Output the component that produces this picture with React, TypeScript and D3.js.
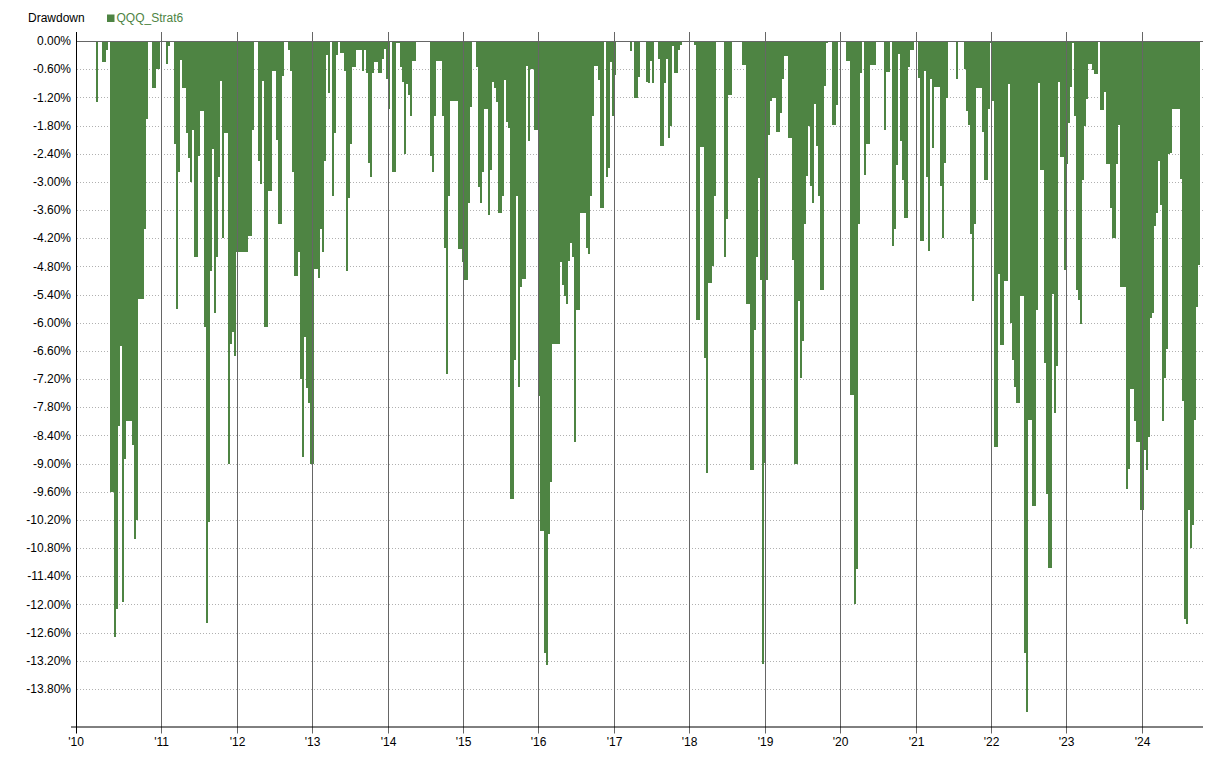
import * as d3 from "d3";
import * as React from "react";

const chartTitle = "Drawdown";
const seriesName = "QQQ_Strat6";

// drawdown in %, one reading about every 9.7 calendar days, starting mid-Nov 2009
const dd2010 = [
    0, 0, 0, 0, 0, 0, 0, 0, 0, 0,
    -1.3, 0, 0, -0.45, -0.45, -0.2, 0, -9.6, -9.6, -12.7,
    -12.1, -8.2, -6.5, -11.95, -8.9, -8.1, -8.1, -8.1, -8.6, -10.6,
    -10.2, -5.5, -5.5, -5.5, -4.0, -1.67, 0, 0, -1.0, -1.0,
    -0.6, -0.6, 0, 0, 0, -0.5, -0.1, 0, 0, -2.2,
    -5.7, -2.8, -0.4, -1.0, -1.0, -1.95, -2.5, -3.0, -1.9, -4.6,
    -4.6, -2.45, -1.5, -1.5, -6.1, -12.4, -10.25, -4.9, -2.3, -5.8,
    -4.6, -2.9, -0.85, -4.2, -1.95, -1.95, -9.0, -6.45, -6.2, -6.7,
];
const dd2012 = [
    -4.5, -4.5, -4.5, -4.5, -4.5, -4.5, -4.15, -4.15, -1.9, 0,
    0, -2.55, -3.05, -0.85, -6.1, -6.1, -3.2, -3.2, -0.64, -0.64,
    -2.1, -3.9, -3.9, -0.75, -0.03, -0.03, -0.2, -0.64, -2.8, -5.0,
    -5.0, -4.5, -7.2, -8.85, -6.3, -7.4, -7.7, -9.0, -9.0, -4.85,
    -4.85, -5.05, -4.0, -4.5, -2.55, -0.3, -1.1, 0, -3.3, -1.97,
    -0.3, 0, -0.26, -0.26, -0.64, -4.9, -3.35, -2.2, -0.56, -0.56,
    -0.19, -0.19, -0.19, -0.64, -0.19, -0.69, -2.6, -2.9, -0.69, -0.45,
    -0.45, -0.69, -0.69, -0.38, -0.17, -0.8, -1.45, 0, -2.8, -2.8,
];
const dd2014 = [
    -0.05, -0.05, -0.56, -0.87, -2.4, -0.92, -1.14, -1.6, -0.43, -0.43,
    0, 0, 0, 0, 0, 0, 0, -2.45, -2.8, -1.6,
    -0.43, -0.43, -0.43, -1.6, -4.4, -7.1, -3.3, -1.27, -1.27, -1.27,
    -1.27, -4.44, -4.44, -4.7, -5.1, -5.1, -3.45, -1.4, 0, 0,
    -0.56, -3.1, -3.45, -2.8, -1.45, -1.45, -3.7, -2.75, -0.87, -1.0,
    -1.3, -3.67, -3.67, -3.3, -0.83, -1.72, -1.86, -9.75, -9.75, -6.8,
    -3.3, -7.37, -5.24, -5.06, -5.06, -0.53, -2.14, -0.6, -0.6, -1.9,
    -1.9, -7.56, -10.44, -10.44, -13.03, -13.3, -10.5, -9.4, -6.46, -6.46,
];
const dd2016 = [
    -6.46, -6.46, -4.7, -5.2, -5.43, -5.6, -4.68, -4.3, -4.6, -8.55,
    -5.73, -5.73, -3.67, -3.67, -3.67, -4.4, -4.53, -3.3, -1.6, -0.53,
    -0.53, -0.83, -3.55, -3.55, 0, -2.9, -2.7, -0.45, -1.6, -0.73,
    0, 0, 0, 0, 0, 0, 0, -0.22, 0, -1.22,
    -1.22, -0.76, 0, 0, 0, -0.87, -0.9, -0.43, -0.9, 0,
    0, -0.38, -2.24, -2.24, -0.9, -0.38, -2.07, -1.8, -0.1, -0.68,
    -0.68, -0.2, -0.08, 0, -0.03, -0.03, -0.03, -0.03, -0.03, -0.08,
    -5.94, -5.94, -2.25, -2.25, -6.75, -9.2, -5.15, -5.15, -4.8, -3.3,
];
const dd2018 = [
    0, 0, 0, 0, -4.6, -3.8, -1.14, -1.14, 0, 0,
    0, 0, 0, -0.52, -0.52, -5.6, -5.6, -9.14, -9.14, -6.16,
    -4.6, -2.92, -5.08, -13.27, -8.98, -5.08, -2.0, -1.28, -1.22, -1.22,
    -1.93, -1.93, -1.53, -0.8, -0.33, -0.33, -2.07, -2.07, -4.66, -9.0,
    -9.0, -5.53, -7.17, -6.38, -3.9, -2.87, -1.8, -3.08, -3.46, -1.34,
    -2.24, -3.3, -5.3, -5.3, -0.95, -0.04, 0, 0, -1.78, -1.78,
    -1.36, 0, 0, 0, 0, -0.43, -0.43, -7.54, -7.54, -12.0,
    -11.25, -3.9, -0.69, 0, -2.85, -2.2, -2.2, -0.52, -0.52, -0.52,
];
const dd2021 = [
    0, 0, 0, 0, -1.89, -0.66, -0.66, 0, -4.37, -4.0,
    -2.64, -0.28, -2.14, -2.96, -3.78, -3.78, -0.56, -0.2, -0.2, 0,
    0, -0.78, -4.25, -4.25, -0.64, -2.9, -4.47, -0.8, -2.28, -0.97,
    -0.97, -0.97, -3.08, -4.2, -2.6, -1.22, 0, 0, 0, 0,
    -0.8, 0, 0, 0, -0.6, -1.5, -1.78, -4.1, -5.53, -3.9,
    -1.0, -1.0, -1.0, -1.93, -2.96, -2.96, -1.44, -0.05, -1.28, -8.65,
    -8.65, -4.96, -6.47, -6.47, -5.12, -5.12, -0.92, -6.0, -6.79, -7.37,
    -7.71, -7.71, -5.43, -5.43, -13.03, -14.3, -8.08, -8.08, -9.9, -9.9,
];
const dd2023 = [
    -5.73, -0.9, -2.75, -2.75, -6.85, -9.65, -11.22, -11.22, -5.39, -7.93,
    -6.93, -0.87, -2.47, -2.47, -4.88, -2.62, -1.75, -0.99, -0.05, -1.6,
    -5.3, -5.52, -6.02, -2.96, -1.81, -1.23, -0.49, -0.49, -0.61, -0.71,
    -0.71, 0, -1.48, -1.48, -1.08, -2.61, -2.61, -3.55, -4.19, -4.19,
    -2.61, -1.79, -5.24, -5.24, -5.24, -9.54, -9.11, -7.42, -7.42, -8.1,
    -8.55, -8.55, -9.99, -9.99, -8.71, -9.14, -8.43, -5.9, -5.8, -3.95,
    -3.66, -2.55, -3.5, -8.1, -7.18, -6.57, -2.4, -2.38, -1.44, -1.44,
    -1.44, -1.44, -2.94, -7.66, -12.3, -12.42, -9.99, -10.8, -10.3, -8.07,
    -5.66, -4.77,
];

const drawdown = [...dd2010, ...dd2012, ...dd2014, ...dd2016, ...dd2018, ...dd2021, ...dd2023];

const yearLabels = ["'10", "'11", "'12", "'13", "'14", "'15", "'16", "'17", "'18", "'19", "'20", "'21", "'22", "'23", "'24"];
const yearStarts = [2011, 2012, 2013, 2014, 2015, 2016, 2017, 2018, 2019, 2020, 2021, 2022, 2023, 2024];
const yTicks = d3.range(0, 24).map(k => -0.6 * k);

const startDate = new Date(2009, 10, 14);
const endDate = new Date(2024, 9, 24);
const stepMs = 9.686 * 24 * 3600 * 1000;

const WIDTH = 1226;
const HEIGHT = 758;
const margin = { top: 41, left: 76, right: 23, bottom: 31.5 };

const GREEN = "#4e8443";
const FONT = "'Liberation Sans', Arial, sans-serif";

export default function App() {
    const x = d3.scaleTime()
        .domain([startDate, endDate])
        .range([margin.left, WIDTH - margin.right]);
    const y = d3.scaleLinear()
        .domain([-14.6, 0])
        .range([HEIGHT - margin.bottom, margin.top]);

    const data = drawdown.map((v, i) => ({
        t0: new Date(startDate.getTime() + i * stepMs),
        t1: new Date(startDate.getTime() + (i + 1) * stepMs),
        v,
    }));

    const xTicks = [
        { pos: x(startDate), label: yearLabels[0] },
        ...yearStarts.map((yr, i) => ({ pos: Math.round(x(new Date(yr, 0, 1))) + 0.5, label: yearLabels[i + 1] })),
    ];
    const x0 = margin.left;
    const x1 = WIDTH - margin.right;
    const yBottom = HEIGHT - margin.bottom;
    const fmt = (d: number) => (Math.abs(d) < 1e-9 ? "0.00%" : d.toFixed(2) + "%");

    return (
        <svg width={WIDTH} height={HEIGHT} style={{ position: "absolute", left: 0, top: 0, background: "#fff" }}
            fontFamily={FONT} fontSize={12}>
            {/* legend */}
            <text x={28} y={22} fill="#000">{chartTitle}</text>
            <rect x={107} y={14.5} width={7.5} height={7.5} fill={GREEN} />
            <text x={116.5} y={22} fill={GREEN}>{seriesName}</text>

            {/* horizontal dotted grid */}
            <g>
                {yTicks.slice(1).map(t => (
                    <line key={t} x1={x0 + 1} x2={x1} y1={Math.round(y(t)) + 0.5} y2={Math.round(y(t)) + 0.5}
                        stroke="#b0b0b0" strokeDasharray="1,2" />
                ))}
            </g>

            {/* bars */}
            <g shapeRendering="crispEdges">
                {data.filter(d => d.v < 0).map((d, i) => (
                    <rect key={i} x={x(d.t0)} width={x(d.t1) - x(d.t0) + 0.3}
                        y={y(0)} height={y(d.v) - y(0)} fill={GREEN} />
                ))}
            </g>

            {/* year lines */}
            <g>
                {xTicks.slice(1).map(t => (
                    <line key={t.label} x1={t.pos} x2={t.pos} y1={32} y2={yBottom + 7} stroke="#666" />
                ))}
            </g>
            <line x1={x0} x2={x1} y1={Math.round(y(0)) + 0.5} y2={Math.round(y(0)) + 0.5} stroke="#666" />

            {/* axes */}
            <line x1={x0 + 0.5} x2={x0 + 0.5} y1={32} y2={yBottom + 7} stroke="#000" />
            <line x1={71} x2={x1} y1={yBottom + 0.5} y2={yBottom + 0.5} stroke="#000" />

            {/* y labels */}
            <g textAnchor="end" fill="#000">
                {yTicks.map(t => (
                    <text key={t} x={71} y={y(t)} dy="0.35em">{fmt(t)}</text>
                ))}
            </g>

            {/* x labels */}
            <g textAnchor="middle" fill="#000">
                {xTicks.map(t => (
                    <text key={t.label} x={t.pos} y={746}>{t.label}</text>
                ))}
            </g>
        </svg>
    );
}
